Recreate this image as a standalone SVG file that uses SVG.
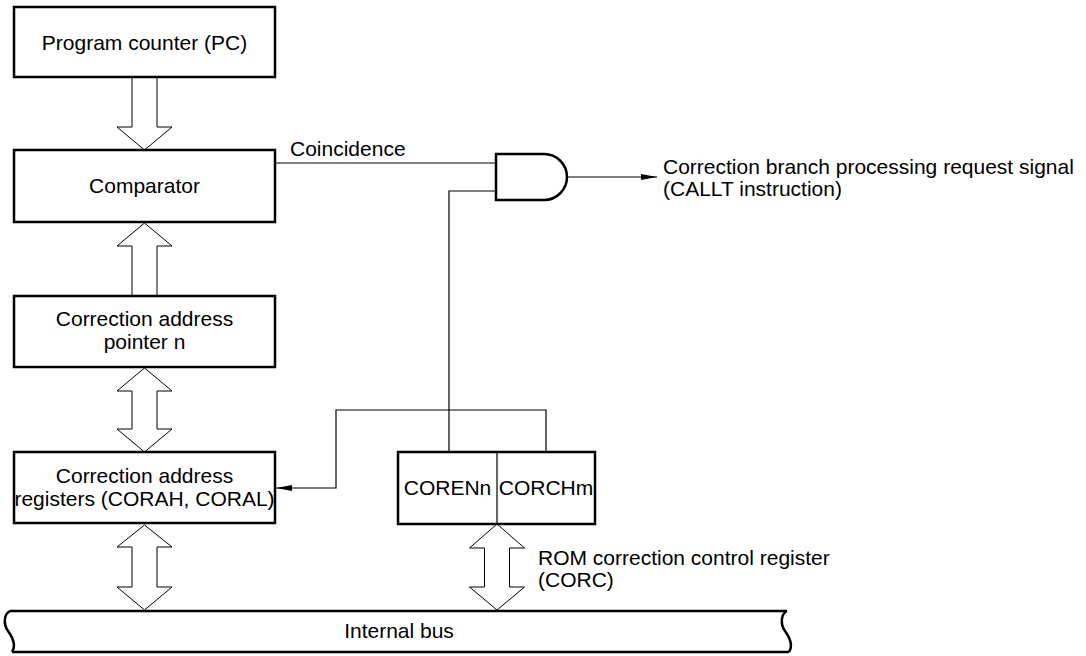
<svg xmlns="http://www.w3.org/2000/svg" width="1086" height="656" viewBox="0 0 1086 656">
<defs>
<style>
text{font-family:"Liberation Sans",Arial,sans-serif;font-size:21px;fill:#000}
.c{text-anchor:middle}
.box{fill:#fff;stroke:#000;stroke-width:2.5}
.bus{fill:none;stroke:#000;stroke-width:1}
.wire{fill:none;stroke:#000;stroke-width:1.2}
.gate{fill:#fff;stroke:#000;stroke-width:2.5}
.edge{fill:none;stroke:#000;stroke-width:2.5}
</style>
<marker id="ah" viewBox="0 0 16 8" refX="16" refY="4" markerWidth="16" markerHeight="8" markerUnits="userSpaceOnUse" orient="auto">
<path d="M0,1 L16,4 L0,7 Z" fill="#000"/>
</marker>
</defs>
<rect width="1086" height="656" fill="#fff"/>

<g id="connectors">
<!-- PC to comparator (down) -->
<path class="bus" d="M132,77 V127 H117 L144.5,150 L172,127 H157 V77"/>
<!-- pointer to comparator (up) -->
<path class="bus" d="M132,296 V246 H117 L144.5,223 L172,246 H157 V296"/>
<!-- pointer <-> registers -->
<path class="bus" d="M144.5,368 L172,391 H157 V429 H172 L144.5,452 L117,429 H132 V391 H117 Z"/>
<!-- registers <-> bus -->
<path class="bus" d="M144.5,525 L172,547 H157 V587 H172 L144.5,610 L117,587 H132 V547 H117 Z"/>
<!-- CORC <-> bus -->
<path class="bus" d="M497,524 L524.5,548 H509.5 V587 H524.5 L497,610 L469.5,587 H484.5 V548 H469.5 Z"/>
<!-- coincidence -->
<path class="wire" d="M275,163 H496"/>
<!-- gate input 2 from COREN -->
<path class="wire" d="M496,191 H449 V452"/>
<!-- CORCHm to registers -->
<path class="wire" d="M546,452 V410 H336 V488 H276" marker-end="url(#ah)"/>
<!-- gate output -->
<path class="wire" d="M567,177 H657" marker-end="url(#ah)"/>
</g>

<g id="pc">
<rect class="box" x="14" y="7" width="261" height="70"/>
<text class="c" x="144.5" y="50">Program counter (PC)</text>
</g>

<g id="comparator">
<rect class="box" x="14" y="150" width="261" height="72"/>
<text class="c" x="144.5" y="193">Comparator</text>
</g>

<g id="pointer">
<rect class="box" x="14" y="296" width="261" height="71"/>
<text class="c" x="144.5" y="326">Correction address</text>
<text class="c" x="144.5" y="349">pointer n</text>
</g>

<g id="registers">
<rect class="box" x="14" y="452" width="261" height="71"/>
<text class="c" x="144.5" y="483">Correction address</text>
<text class="c" x="144.5" y="506">registers (CORAH, CORAL)</text>
</g>

<g id="corc">
<rect class="box" x="398" y="452" width="197" height="72"/>
<line x1="497" y1="452" x2="497" y2="524" stroke="#000" stroke-width="1.2"/>
<text class="c" x="447.5" y="495">CORENn</text>
<text class="c" x="546" y="495">CORCHm</text>
</g>

<g id="and-gate">
<path class="gate" d="M496,154 H544 A23,23 0 0 1 544,200 H496 Z"/>
</g>

<g id="internal-bus">
<path fill="#fff" stroke="none" d="M10,611 H787 C781,614 780,624 785,631 C790,638 793,646 789,652 H12 C16,646 13,638 8,631 C3,624 4,614 10,611 Z"/>
<path class="edge" d="M10,611 H787 M12,652 H789"/>
<path class="edge" d="M10,611 C4,614 3,624 8,631 C13,638 16,646 12,652"/>
<path class="edge" d="M787,611 C781,614 780,624 785,631 C790,638 793,646 789,652"/>
<text class="c" x="399" y="638">Internal bus</text>
</g>

<g id="labels">
<text x="290" y="156">Coincidence</text>
<text x="663" y="174">Correction branch processing request signal</text>
<text x="663" y="196">(CALLT instruction)</text>
<text x="538" y="565">ROM correction control register</text>
<text x="538" y="587">(CORC)</text>
</g>
</svg>
